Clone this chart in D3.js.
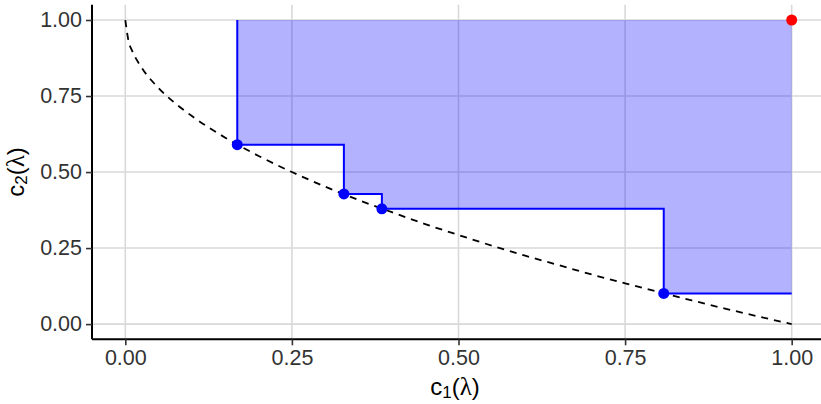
<!DOCTYPE html>
<html><head><meta charset="utf-8">
<script src="https://cdn.jsdelivr.net/npm/d3@7"></script>
<style>body{margin:0;background:#fff}svg{display:block}text{font-family:"Liberation Sans",Arial,sans-serif}</style>
</head><body>
<svg id="c" width="821" height="404"></svg>
<script>
// Dashed reference curve
const curveX = [0, 0.005, 0.01, 0.025, 0.05, 0.075, 0.1, 0.15, 0.2, 0.25, 0.3, 0.35, 0.4, 0.45, 0.5, 0.55, 0.6, 0.65, 0.7, 0.75, 0.8, 0.85, 0.9, 0.95, 1.0];
const curveY = [1.0, 0.929, 0.9, 0.842, 0.776, 0.726, 0.684, 0.613, 0.553, 0.5, 0.452, 0.408, 0.368, 0.329, 0.293, 0.258, 0.225, 0.194, 0.163, 0.134, 0.106, 0.078, 0.051, 0.025, 0.0];
// Front points
const frontX = [0.168, 0.328, 0.385, 0.808];
const frontY = [0.590, 0.428, 0.379, 0.101];
// Reference point
const refX = [1.0];
const refY = [1.0];
// Ticks
const xTicks = [0, 0.25, 0.5, 0.75, 1.0];
const yTicks = [0, 0.25, 0.5, 0.75, 1.0];
const tickLabels = ["0.00", "0.25", "0.50", "0.75", "1.00"];

const svg = d3.select("#c");
const x = d3.scaleLinear().domain([-0.05, 1.05]).range([92, 825]);
const y = d3.scaleLinear().domain([-0.05, 1.05]).range([339.3, 4.8]);

const grid = svg.append("g");
xTicks.forEach(t => grid.append("line").attr("x1", x(t)).attr("x2", x(t)).attr("y1", y.range()[0]).attr("y2", y.range()[1])
  .attr("stroke", "#d9d9d9").attr("stroke-width", 1.6));
yTicks.forEach(t => grid.append("line").attr("y1", y(t)).attr("y2", y(t)).attr("x1", x.range()[0]).attr("x2", x.range()[1])
  .attr("stroke", "#d9d9d9").attr("stroke-width", 1.6));

// dashed curve
const curvePts = curveX.map((v, i) => [v, curveY[i]]);
svg.append("path").attr("d", d3.line().x(d => x(d[0])).y(d => y(d[1])).curve(d3.curveMonotoneX)(curvePts))
  .attr("fill", "none").attr("stroke", "#000").attr("stroke-width", 1.8).attr("stroke-dasharray", "7,6");

// staircase
const stepPts = [[frontX[0], 1]].concat(frontX.map((v, i) => [v, frontY[i]])).concat([[1, frontY[frontY.length - 1]]]);
svg.append("path").attr("d", d3.area().x(d => x(d[0])).y0(y(1)).y1(d => y(d[1])).curve(d3.curveStepAfter)(stepPts))
  .attr("fill", "blue").attr("fill-opacity", 0.3);
svg.append("path").attr("d", d3.line().x(d => x(d[0])).y(d => y(d[1])).curve(d3.curveStepAfter)(stepPts))
  .attr("fill", "none").attr("stroke", "blue").attr("stroke-width", 2);

svg.selectAll("circle.f").data(frontX).enter().append("circle").attr("class", "f")
  .attr("cx", d => x(d)).attr("cy", (d, i) => y(frontY[i])).attr("r", 5.5).attr("fill", "blue");
svg.selectAll("circle.r").data(refX).enter().append("circle").attr("class", "r")
  .attr("cx", d => x(d)).attr("cy", (d, i) => y(refY[i])).attr("r", 5.5).attr("fill", "red");

// axes
const xAxis = d3.axisBottom(x).tickValues(xTicks).tickFormat((d, i) => tickLabels[i]).tickSize(6).tickPadding(4);
const yAxis = d3.axisLeft(y).tickValues(yTicks).tickFormat((d, i) => tickLabels[i]).tickSize(6).tickPadding(4);
const gx = svg.append("g").attr("transform", `translate(0,${y.range()[0]})`).call(xAxis);
const gy = svg.append("g").attr("transform", `translate(${x.range()[0]},0)`).call(yAxis);
[gx, gy].forEach(g => {
  g.select(".domain").attr("stroke", "#000").attr("stroke-width", 2);
  g.selectAll(".tick line").attr("stroke", "#333").attr("stroke-width", 1.6);
  g.selectAll(".tick text").attr("font-size", 21.5).attr("fill", "#333").attr("font-family", "Liberation Sans, Arial, sans-serif");
});
gx.select(".domain").attr("d", `M${x.range()[0]},0H${x.range()[1]}`);
gy.select(".domain").attr("d", `M0,${y.range()[0]}V${y.range()[1]}`);

// axis titles
function title(g, sub) {
  const t = g.append("text").attr("font-size", 24).attr("text-anchor", "middle").attr("fill", "#000");
  t.append("tspan").text("c");
  t.append("tspan").text(sub).attr("font-size", 17).attr("dy", 3);
  t.append("tspan").text("(").attr("dy", -3);
  t.append("tspan").text("λ").attr("font-family", "Liberation Serif, serif").attr("font-size", 25);
  t.append("tspan").text(")");
  return t;
}
title(svg.append("g").attr("transform", "translate(455,394.5)"), "1");
title(svg.append("g").attr("transform", "translate(23.5,172) rotate(-90)"), "2");
</script>
</body></html>
